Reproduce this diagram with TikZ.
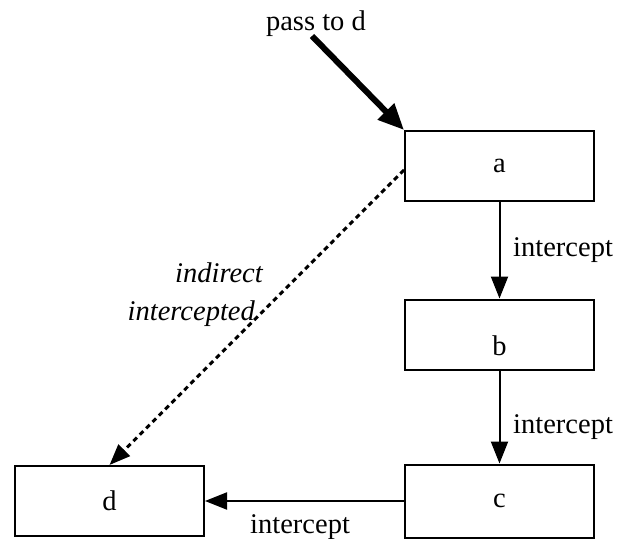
\documentclass[tikz,border=0pt]{standalone}
\usepackage{fontspec}
\setmainfont{Liberation Serif}
\usetikzlibrary{arrows.meta}
\tikzset{
  stepbox/.style={draw, line width=2pt, minimum width=189pt, minimum height=70pt, inner sep=0pt},
  thinarrow/.style={line width=2pt, -{Triangle[length=22pt,width=17pt]}},
  thickarrow/.style={line width=6pt, -{Triangle[length=26pt,width=22pt]}},
  dasharrow/.style={line width=3pt, dash pattern=on 5pt off 4pt, -{Triangle[length=21pt,width=16pt]}},
  lbl/.style={inner sep=0pt},
}
\begin{document}
\begin{tikzpicture}[x=1pt,y=-1pt,font=\fontsize{28.5}{34}\selectfont]
\useasboundingbox (0,0) rectangle (618,538);
\node[stepbox] (a) at (499.5,166) {a};
\node[stepbox, text height=41pt, text depth=0pt] (b) at (499.5,334.5) {b};
\node[stepbox, minimum height=73pt] (c) at (499.5,501) {c};
\node[stepbox] (d) at (109.5,501) {d};
\coordinate (start) at (312,36);
\node[lbl, anchor=base east] (pass) at (366,30) {pass to d};
\draw[thickarrow] (start) -- (a.north west);
\draw[thinarrow] (a) -- (b);
\draw[thinarrow] (b) -- (c);
\draw[thinarrow] (c) -- (d);
\draw[dasharrow] ([yshift=-4pt]a.west) -- (d.north);
\node[lbl, anchor=base west] (l1) at (513,256) {intercept};
\node[lbl, anchor=base west] (l2) at (513,433) {intercept};
\node[lbl, anchor=base west] (l3) at (250,533) {intercept};
\node[lbl, anchor=base east] (i1) at (263,282) {\itshape indirect};
\node[lbl, anchor=base east] (i2) at (255,320) {\itshape intercepted};
\end{tikzpicture}
\end{document}
